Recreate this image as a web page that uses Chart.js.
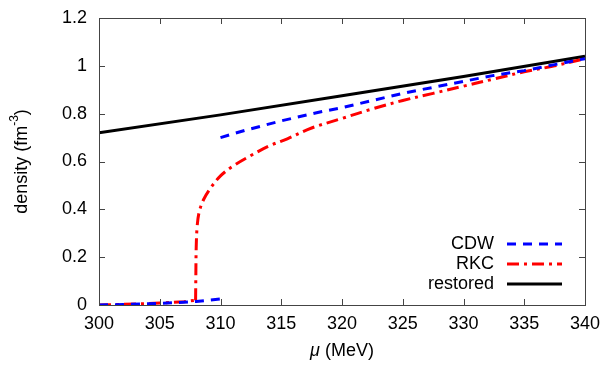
<!DOCTYPE html>
<html>
<head>
<meta charset="utf-8">
<script src="https://cdn.jsdelivr.net/npm/chart.js@4"></script>
<style>
  html, body { margin: 0; padding: 0; background: #fff; }
  #wrap { width: 606px; height: 369px; }
</style>
</head>
<body>
<div id="wrap"><canvas id="chart" width="606" height="369"></canvas></div>
<script>
// chemical potential (MeV) and density (fm^-3)
const cdwLowMu = [300, 302, 304, 306, 308, 310];
const cdwLowRho = [0.0, 0.002, 0.005, 0.009, 0.015, 0.025];
const cdwHighMu = [310, 312, 315, 318, 320, 322.5, 325, 327.5, 330, 332.5, 335, 337.5, 340];
const cdwHighRho = [0.70, 0.73, 0.77, 0.805, 0.825, 0.855, 0.885, 0.91, 0.935, 0.96, 0.98, 1.005, 1.03];

const rkcLowMu = [300, 303, 305, 307, 307.95];
const rkcLowRho = [0.0, 0.004, 0.008, 0.014, 0.02];
const rkcHighMu = [307.95, 307.97, 308.0, 308.08, 308.25, 308.6, 309.2, 310, 311, 312.5, 314, 315.5, 317.5, 320, 322.5, 325, 327.5, 330, 332.5, 335, 337.5, 340];
const rkcHighRho = [0.02, 0.12, 0.24, 0.33, 0.39, 0.44, 0.49, 0.54, 0.58, 0.625, 0.665, 0.695, 0.74, 0.78, 0.82, 0.855, 0.885, 0.915, 0.945, 0.975, 1.0, 1.03];

const restoredMu = [300, 310, 320, 330, 340];
const restoredRho = [0.72, 0.795, 0.875, 0.955, 1.04];

const xTicks = [300, 305, 310, 315, 320, 325, 330, 335, 340];
const yTicks = [0, 0.2, 0.4, 0.6, 0.8, 1, 1.2];
const yTickLabels = ['0', '0.2', '0.4', '0.6', '0.8', '1', '1.2'];

const seriesNames = ['CDW', 'RKC', 'restored'];

function toPoints(xs, ys) {
    return xs.map((x, i) => ({ x: x, y: ys[i] }));
}

const FONT = '"Liberation Sans", Arial, sans-serif';

const lineStyle = {
    CDW: { color: '#0000ff', dash: [9, 7] },
    RKC: { color: '#ff0000', dash: [12, 5, 3, 5] },
    restored: { color: '#000000', dash: [] }
};

const datasets = [
    { label: 'CDW', data: toPoints(cdwLowMu, cdwLowRho) },
    { label: 'CDW', data: toPoints(cdwHighMu, cdwHighRho) },
    { label: 'RKC', data: toPoints(rkcLowMu, rkcLowRho) },
    { label: 'RKC', data: toPoints(rkcHighMu, rkcHighRho), tension: 0.35 },
    { label: 'restored', data: toPoints(restoredMu, restoredRho) }
].map(ds => Object.assign({
    borderColor: lineStyle[ds.label].color,
    borderDash: lineStyle[ds.label].dash,
    borderWidth: 3,
    pointRadius: 0,
    fill: false,
    showLine: true,
    tension: 0
}, ds));

// gnuplot-like frame with inward ticks on all sides
const framePlugin = {
    id: 'frame',
    afterDatasetsDraw(chart) {
        const ctx = chart.ctx;
        const a = chart.chartArea;
        const xs = chart.scales.x, ys = chart.scales.y;
        const len = 6;
        ctx.save();
        ctx.strokeStyle = '#444';
        ctx.lineWidth = 1;
        ctx.strokeRect(Math.round(a.left) + 0.5, Math.round(a.top) + 0.5,
            Math.round(a.right - a.left), Math.round(a.bottom - a.top));
        ctx.beginPath();
        xTicks.forEach(v => {
            const px = Math.round(xs.getPixelForValue(v)) + 0.5;
            ctx.moveTo(px, a.bottom); ctx.lineTo(px, a.bottom - len);
            ctx.moveTo(px, a.top); ctx.lineTo(px, a.top + len);
        });
        yTicks.forEach(v => {
            const py = Math.round(ys.getPixelForValue(v)) + 0.5;
            ctx.moveTo(a.left, py); ctx.lineTo(a.left + len, py);
            ctx.moveTo(a.right, py); ctx.lineTo(a.right - len, py);
        });
        ctx.stroke();
        ctx.restore();
    },
    afterDraw(chart) {
        const ctx = chart.ctx;
        const a = chart.chartArea;
        ctx.save();
        ctx.fillStyle = '#000';

        // x title
        const mu = 'μ';
        const rest = ' (MeV)';
        ctx.font = 'italic 18px ' + FONT;
        const w1 = ctx.measureText(mu).width;
        ctx.font = '18px ' + FONT;
        const w2 = ctx.measureText(rest).width;
        const cx = (a.left + a.right) / 2;
        let x0 = cx - (w1 + w2) / 2;
        ctx.textBaseline = 'middle';
        ctx.textAlign = 'left';
        ctx.font = 'italic 18px ' + FONT;
        ctx.fillText(mu, x0, 351);
        ctx.font = '18px ' + FONT;
        ctx.fillText(rest, x0 + w1, 351);

        // y title with superscript
        ctx.translate(22, (a.top + a.bottom) / 2);
        ctx.rotate(-Math.PI / 2);
        const p1 = 'density (fm', sup = '-3', p2 = ')';
        ctx.font = '18px ' + FONT;
        const a1 = ctx.measureText(p1).width, a3 = ctx.measureText(p2).width;
        ctx.font = '12px ' + FONT;
        const a2 = ctx.measureText(sup).width;
        let sx = -(a1 + a2 + a3) / 2;
        ctx.font = '18px ' + FONT;
        ctx.fillText(p1, sx, 0);
        ctx.font = '12px ' + FONT;
        ctx.fillText(sup, sx + a1, -7);
        ctx.font = '18px ' + FONT;
        ctx.fillText(p2, sx + a1 + a2, 0);
        ctx.restore();

        // legend: right-aligned text with line sample
        ctx.save();
        ctx.font = '18px ' + FONT;
        ctx.textAlign = 'right';
        ctx.textBaseline = 'middle';
        seriesNames.forEach((name, i) => {
            const y = 244 + i * 20;
            ctx.fillStyle = '#000';
            ctx.fillText(name, 494, y);
            ctx.beginPath();
            ctx.strokeStyle = lineStyle[name].color;
            ctx.setLineDash(lineStyle[name].dash);
            ctx.lineWidth = 3;
            ctx.moveTo(507, y);
            ctx.lineTo(562, y);
            ctx.stroke();
        });
        ctx.restore();
    }
};

new Chart(document.getElementById('chart'), {
    type: 'line',
    data: { datasets: datasets },
    options: {
        responsive: false,
        animation: false,
        layout: { padding: { top: 18, right: 21, left: 0, bottom: 0 } },
        plugins: { legend: { display: false }, tooltip: { enabled: false } },
        scales: {
            x: {
                type: 'linear',
                min: 300, max: 340,
                afterBuildTicks: s => { s.ticks = xTicks.map(v => ({ value: v })); },
                afterFit: s => { s.height = 64; s.paddingLeft = 0; s.paddingRight = 0; },
                grid: { display: false, drawTicks: false },
                border: { display: false },
                ticks: { color: '#000', font: { size: 18, family: FONT }, padding: 8, maxRotation: 0 }
            },
            y: {
                type: 'linear',
                min: 0, max: 1.2,
                afterBuildTicks: s => { s.ticks = yTicks.map(v => ({ value: v })); },
                afterFit: s => { s.width = 99; s.paddingTop = 0; s.paddingBottom = 0; },
                grid: { display: false, drawTicks: false },
                border: { display: false },
                ticks: {
                    color: '#000', font: { size: 18, family: FONT }, padding: 12,
                    callback: (v) => yTickLabels[yTicks.indexOf(v)]
                }
            }
        }
    },
    plugins: [framePlugin]
});
</script>
</body>
</html>
